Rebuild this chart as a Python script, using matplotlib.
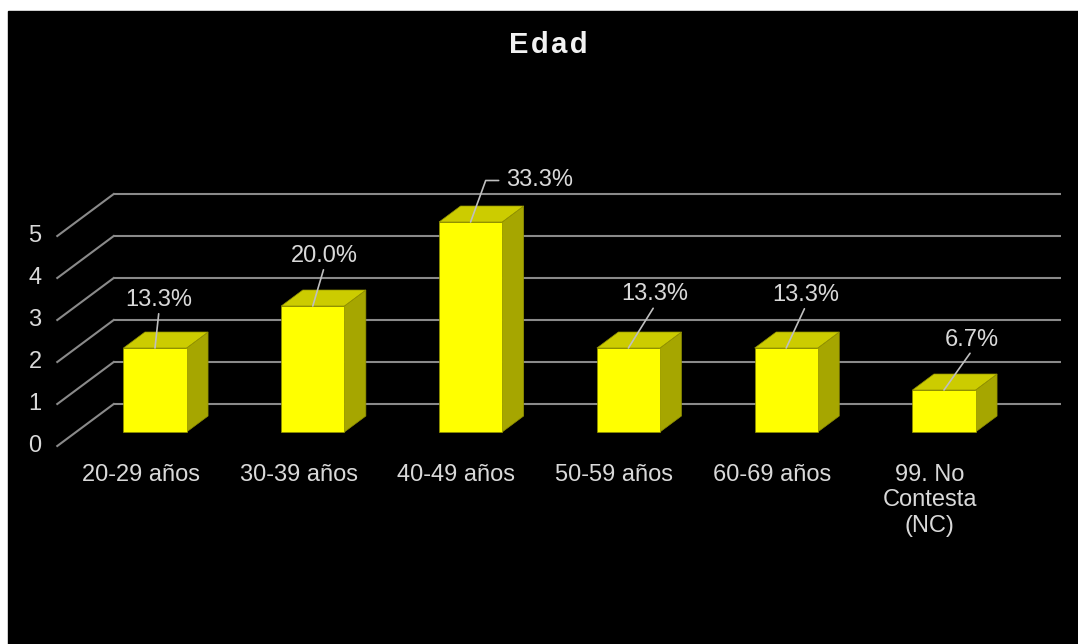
import matplotlib
matplotlib.use("Agg")
import matplotlib.pyplot as plt
from matplotlib.patches import Rectangle, Polygon

# ---- data ----
categories = ["20-29 años", "30-39 años", "40-49 años", "50-59 años",
              "60-69 años", "99. No\nContesta\n(NC)"]
counts = [2, 3, 5, 2, 2, 1]
pct_labels = ["13.3%", "20.0%", "33.3%", "13.3%", "13.3%", "6.7%"]
y_ticks = [0, 1, 2, 3, 4, 5]
title = "Edad"

# label offsets (pixels) from bar top-front centre, as placed in the original
label_offsets = [(4, 48), (11.5, 50), (69, 41.5), (26.5, 53.5), (19.5, 53), (28, 50.5)]

plt.rcParams['font.family'] = ['Liberation Sans', 'DejaVu Sans']

W, H = 1078, 644
fig = plt.figure(figsize=(W / 100, H / 100), dpi=100)
fig.patch.set_facecolor('white')
fig.add_artist(Rectangle((8 / W, 0), (W - 8) / W, (H - 11) / H,
                         transform=fig.transFigure, color='black', zorder=0))

ax = fig.add_axes([0, 0, 1, 1])
ax.set_facecolor('none')
ax.axis('off')
PX_X, X0 = 157.8, 155.0       # pixels per category, pixel of category 0
PX_Y, Y0 = 42.0, 432.0        # pixels per unit, pixel (from top) of value 0
ax.set_xlim(-X0 / PX_X, (W - X0) / PX_X)
ax.set_ylim((Y0 - H) / PX_Y, Y0 / PX_Y)

# 3D projection parameters (per unit of depth)
kx, ky = 21.5 / PX_X, 16.0 / PX_Y
z_back, z_front = 1.75, -0.875
bar_w = 0.40
n = len(categories)
grid_c = '#8A8A8A'
text_c = '#D9D9D9'
fs = 17

# back wall gridlines and left wall diagonals
for v in y_ticks:
    xl_b = -0.5 + z_back * kx
    xr_b = n - 0.5 + z_back * kx
    yb = v + z_back * ky
    ax.plot([xl_b, xr_b], [yb, yb], color=grid_c, lw=1.5, zorder=1,
            solid_capstyle='butt')
    xl_f = -0.5 + z_front * kx
    yf = v + z_front * ky
    ax.plot([xl_f, xl_b], [yf, yb], color=grid_c, lw=1.5, zorder=1)
    ax.text(xl_f - 0.10, yf, str(v), ha='right', va='center',
            color=text_c, fontsize=fs)

# bars
front_c, top_c, side_c, edge_c = '#FFFF00', '#CCCC00', '#A6A600', '#8F8F00'
for i, v in enumerate(counts):
    l, r = i - bar_w / 2, i + bar_w / 2
    side = Polygon([(r, 0), (r + kx, ky), (r + kx, v + ky), (r, v)],
                   closed=True, facecolor=side_c, edgecolor=edge_c, lw=0.5, zorder=3)
    top = Polygon([(l, v), (r, v), (r + kx, v + ky), (l + kx, v + ky)],
                  closed=True, facecolor=top_c, edgecolor=edge_c, lw=0.5, zorder=3)
    front = Rectangle((l, 0), bar_w, v, facecolor=front_c, edgecolor=edge_c,
                      lw=0.5, zorder=4)
    for p in (side, top, front):
        ax.add_patch(p)

# category labels on the front floor
for i, lab in enumerate(categories):
    ax.text(i - 0.09, z_front * ky - 0.42, lab, ha='center', va='top',
            color=text_c, fontsize=fs, linespacing=1.22)

# data labels with leader lines
for i, (v, lab, off) in enumerate(zip(counts, pct_labels, label_offsets)):
    if i == 2:
        ax.annotate(lab, xy=(i, v), xytext=(off[0] - 34, off[1]),
                    textcoords='offset pixels', ha='left', va='center',
                    color=text_c, fontsize=fs, zorder=6,
                    arrowprops=dict(arrowstyle='-', color='#BFBFBF', lw=1.2,
                                    shrinkA=3, shrinkB=0, relpos=(0, 0.5),
                                    connectionstyle='angle,angleA=0,angleB=70,rad=0'))
    else:
        ax.annotate(lab, xy=(i, v), xytext=off, textcoords='offset pixels',
                    ha='center', va='center', color=text_c, fontsize=fs, zorder=6,
                    arrowprops=dict(arrowstyle='-', color='#BFBFBF', lw=1.2,
                                    shrinkA=0, shrinkB=0, relpos=(0.5, 0)))

fig.text(548 / W, 1 - 45 / H, "\u200a".join(title), ha='center', va='center',
         color='#F2F2F2', fontsize=21, fontweight='bold')

fig.savefig('out.png', dpi=100, facecolor=fig.get_facecolor())
